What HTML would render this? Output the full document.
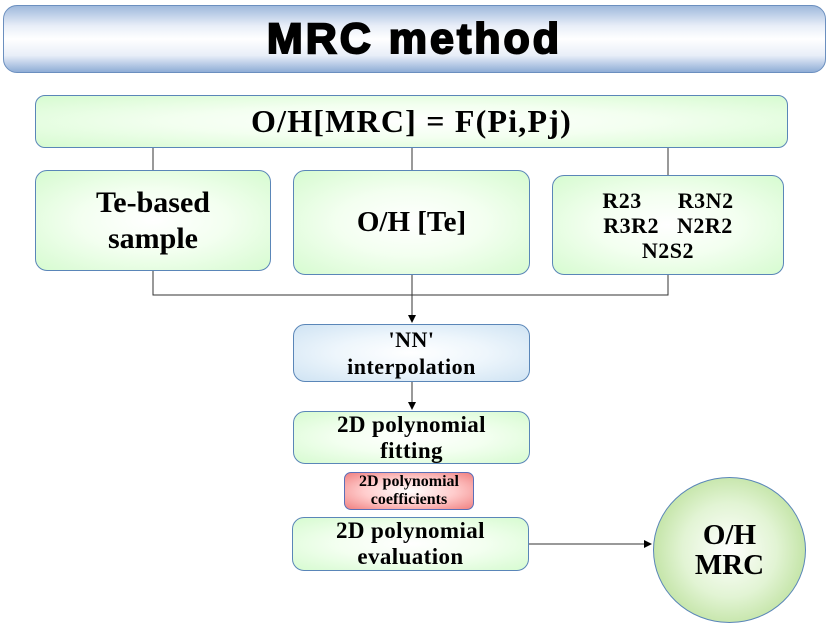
<!DOCTYPE html>
<html><head><style>
body{margin:0;width:829px;height:617px;background:#fff;overflow:hidden;position:relative;font-family:"Liberation Serif",serif;font-weight:bold}
.b{position:absolute;box-sizing:border-box;display:flex;align-items:center;justify-content:center;text-align:center;color:#000}
.g{border:1px solid #5a86b8;border-radius:12px;background:radial-gradient(ellipse at center,#fff 0%,#f3fff0 45%,#d6fbd0 100%)}
.bl{border:1px solid #5a86b8;border-radius:12px;background:radial-gradient(ellipse at center,#fff 0%,#eef6fc 45%,#cfe3f3 100%)}
</style></head><body>
<div class="b" style="left:3px;top:5px;width:823px;height:68px;border-radius:14px;border:1px solid #6b8fbf;background:linear-gradient(#9fb9dc 0%,#e8eef8 30%,#fff 50%,#e8eef8 75%,#8fadd6 100%);font-family:'Liberation Sans',sans-serif;font-size:43px;letter-spacing:3px;-webkit-text-stroke:2px #000">MRC method</div>
<div class="b g" style="left:35px;top:95px;width:753px;height:53px;border-radius:10px;font-size:32px;letter-spacing:1.2px">O/H[MRC] = F(Pi,Pj)</div>
<svg style="position:absolute;left:0;top:0" width="829" height="617">
<defs><marker id="a" markerWidth="8" markerHeight="8" refX="7" refY="4" orient="auto" markerUnits="userSpaceOnUse"><path d="M0,0 L8,4 L0,8z" fill="#000"/></marker></defs>
<g stroke="#333" stroke-width="1" fill="none">
<path d="M153 148V170M412 148V170M668 148V175"/>
<path d="M153 271V295H668V275"/>
<path d="M412 275V322" marker-end="url(#a)"/>
<path d="M412 382V409" marker-end="url(#a)"/>
<path d="M529 544H651" marker-end="url(#a)"/>
</g></svg>
<div class="b g" style="left:35px;top:170px;width:236px;height:101px;font-size:30px;line-height:36px">Te-based<br>sample</div>
<div class="b g" style="left:293px;top:170px;width:237px;height:105px;font-size:29px">O/H [Te]</div>
<div class="b g" style="left:552px;top:175px;width:232px;height:100px;font-size:22px;line-height:25px;letter-spacing:0.5px">R23&nbsp;&nbsp;&nbsp;&nbsp;&nbsp;&nbsp;R3N2<br>R3R2&nbsp;&nbsp;&nbsp;N2R2<br>N2S2</div>
<div class="b bl" style="left:293px;top:324px;width:237px;height:58px;font-size:22px;line-height:27px;letter-spacing:0.5px">'NN'<br>interpolation</div>
<div class="b g" style="left:293px;top:411px;width:237px;height:53px;font-size:23px;line-height:26px;letter-spacing:0.4px">2D polynomial<br>fitting</div>
<div class="b" style="left:344px;top:472px;width:130px;height:38px;border:1px solid #5a6fb8;border-radius:7px;background:radial-gradient(ellipse at center,#fff 0%,#fcc 50%,#f08080 100%);font-size:16px;line-height:18px">2D polynomial<br>coefficients</div>
<div class="b g" style="left:292px;top:517px;width:237px;height:54px;font-size:23px;line-height:26px;letter-spacing:0.4px">2D polynomial<br>evaluation</div>
<div class="b" style="left:653px;top:477px;width:153px;height:146px;border-radius:50%;border:1px solid #5a86b8;background:radial-gradient(circle at center,#fff 0%,#e2f4d4 45%,#a8d67e 100%);font-size:29px;line-height:30px">O/H<br>MRC</div>
</body></html>
